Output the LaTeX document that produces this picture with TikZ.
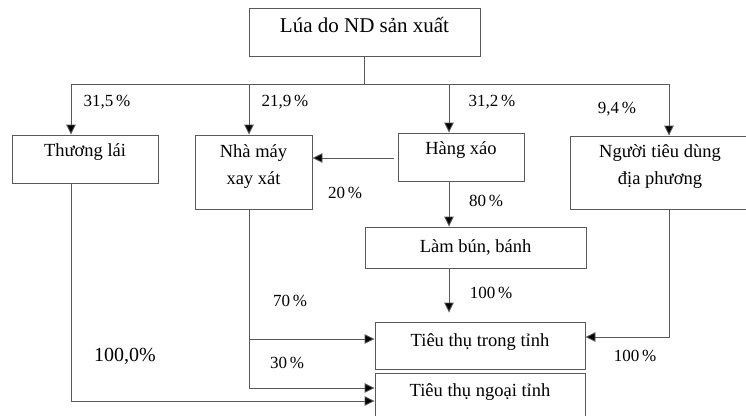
\documentclass[tikz,border=0pt]{standalone}
\usepackage{fontspec}
\setmainfont{Liberation Serif}
\usetikzlibrary{arrows.meta}
\tikzset{
  box/.style={draw=black!65, line width=0.9pt, inner sep=0pt, align=center, font=\fontsize{18.5}{24}\selectfont},
  twoline/.style={font=\fontsize{18.5}{27}\selectfont},
  conn/.style={draw=black!65, line width=0.9pt},
  arr/.style={conn, -{Triangle[length=10pt,width=9.5pt,fill=black]}},
  pct/.style={font=\fontsize{17}{20}\selectfont, inner sep=0pt}
}
\begin{document}
\begin{tikzpicture}[x=1pt,y=-1pt]
\useasboundingbox (0,0) rectangle (746,415);
\clip (0,0) rectangle (746,415);
% boxes
\node[box, minimum width=231pt, minimum height=48pt, font=\fontsize{21}{26}\selectfont] (top) at (364.5,32) {Lúa do ND sản xuất\\[-20pt]\strut};
\node[box, minimum width=146pt, minimum height=48pt] (thuong) at (85,159) {Thương lái\\[-14pt]\strut};
\node[box, twoline, minimum width=117pt, minimum height=74pt] (nha) at (253.5,172) {Nhà máy\\xay xát\\[-19.6pt]\strut};
\node[box, minimum width=126pt, minimum height=48pt] (hang) at (461,157) {Hàng xáo\\[-14pt]\strut};
\node[box, twoline, minimum width=180pt, minimum height=73pt] (nguoi) at (660,172.5) {Người tiêu dùng\\địa phương\\[-19.6pt]\strut};
\node[box, minimum width=221pt, minimum height=41pt] (lam) at (475.5,247.5) {Làm bún, bánh};
\node[box, minimum width=210pt, minimum height=47pt] (trong) at (480,345.5) {Tiêu thụ trong tỉnh\\[-19.7pt]\strut};
\node[box, minimum width=210pt, minimum height=47pt] (ngoai) at (480,396.5) {Tiêu thụ ngoại tỉnh\\[-17.5pt]\strut};
% bus coordinates
\coordinate (b1) at (71,84);
\coordinate (b2) at (249,84);
\coordinate (b3) at (449,84);
\coordinate (b4) at (669,84);
\coordinate (d1) at (669,337);
\coordinate (e1) at (249,339);
\coordinate (e2) at (249,388);
\coordinate (f1) at (71,401);
% connectors
\draw[conn] (top.south) -- (top.south |- b1);
\draw[conn] (b1) -- (b4);
\draw[arr] (b1) -- (b1 |- thuong.north);
\draw[arr] (b2) -- (b2 |- nha.north);
\draw[arr] (b3) -- (b3 |- hang.north);
\draw[arr] (b4) -- (b4 |- nguoi.north);
\draw[arr] ([xshift=-4pt,yshift=-1pt]hang.west) -- ([yshift=-1pt]hang.west -| nha.east);
\draw[arr] (b3 |- hang.south) -- (b3 |- lam.north);
\draw[arr, shorten >=9pt] (b3 |- lam.south) -- (b3 |- trong.north);
\draw[arr] (b4 |- nguoi.south) -- (d1) -- (d1 -| trong.east);
\draw[conn] (b2 |- nha.south) -- (e2);
\draw[arr] (e1) -- (e1 -| trong.west);
\draw[arr] (e2) -- (e2 -| ngoai.west);
\draw[arr] (b1 |- thuong.south) -- (f1) -- (f1 -| ngoai.west);
% labels
\node[pct] (p1) at (107,102) {31,5\,\%};
\node[pct] (p2) at (285,102) {21,9\,\%};
\node[pct] (p3) at (492,102) {31,2\,\%};
\node[pct] (p4) at (617,109) {9,4\,\%};
\node[pct] (p5) at (345,193) {20\,\%};
\node[pct] (p6) at (486,201) {80\,\%};
\node[pct] (p7) at (491,293) {100\,\%};
\node[pct] (p8) at (290,301) {70\,\%};
\node[pct] (p9) at (287,363) {30\,\%};
\node[pct] (p10) at (635,356) {100\,\%};
\node[pct, font=\fontsize{20}{24}\selectfont] (p11) at (125,356) {100,0\%};
\end{tikzpicture}
\end{document}
